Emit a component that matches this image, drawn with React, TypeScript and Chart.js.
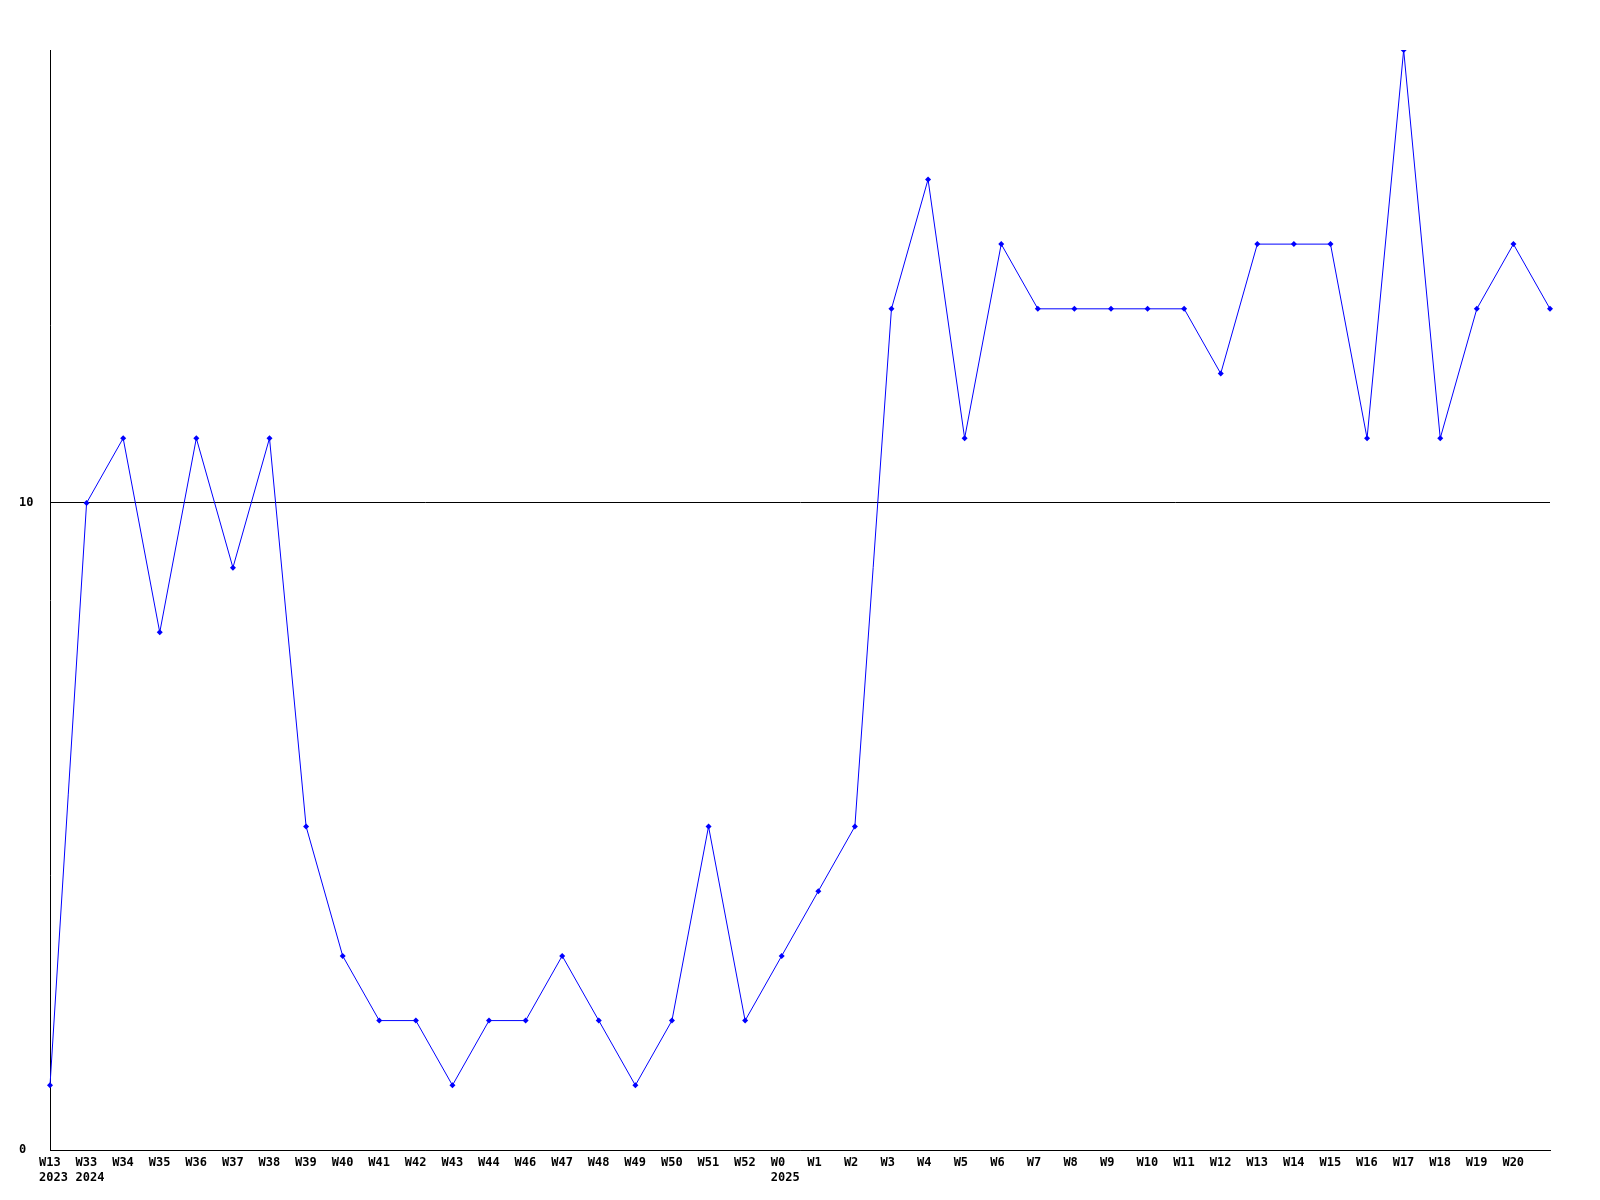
import React, { useEffect, useRef } from "react";
import { Chart, registerables } from "chart.js";

Chart.register(...registerables);

const weekLabels: (string | string[])[] = [
  ["W13", "2023"], ["W33", "2024"], "W34", "W35", "W36", "W37", "W38", "W39", "W40", "W41",
  "W42", "W43", "W44", "W46", "W47", "W48", "W49", "W50", "W51", "W52",
  ["W0", "2025"], "W1", "W2", "W3", "W4", "W5", "W6", "W7", "W8", "W9",
  "W10", "W11", "W12", "W13", "W14", "W15", "W16", "W17", "W18", "W19",
  "W20", "",
];

const seriesValues: number[] = [
  1, 10, 11, 8, 11, 9, 11, 5, 3, 2,
  2, 1, 2, 2, 3, 2, 1, 2, 5, 2,
  3, 4, 5, 13, 15, 11, 14, 13, 13, 13,
  13, 13, 12, 14, 14, 14, 11, 17, 11, 13,
  14, 13,
];

const yTickValues: number[] = [0, 10];

export default function App() {
  const ref = useRef<HTMLCanvasElement>(null);
  useEffect(() => {
    if (!ref.current) return;
    const font = { family: "'DejaVu Sans Mono', monospace", size: 12, weight: "bold" as const };
    const chart = new Chart(ref.current, {
      type: "line",
      data: {
        labels: weekLabels,
        datasets: [
          {
            data: seriesValues,
            borderColor: "#0000ff",
            backgroundColor: "#0000ff",
            borderWidth: 1,
            pointStyle: "rectRot",
            pointRadius: 3,
            pointBorderWidth: 0,
            tension: 0,
            fill: false,
          },
        ],
      },
      options: {
        animation: false,
        responsive: false,
        maintainAspectRatio: false,
        layout: { padding: { left: 19, top: 50, right: 50, bottom: 0 } },
        plugins: { legend: { display: false }, tooltip: { enabled: false } },
        scales: {
          x: {
            offset: false,
            grid: { display: false, drawTicks: false },
            border: { color: "#000", width: 1 },
            ticks: {
              color: "#000",
              font,
              padding: 6,
              maxRotation: 0,
              autoSkip: false,
              align: "start",
              labelOffset: -11,
            },
            afterFit: (s: any) => { s.height = 50; },
          },
          y: {
            min: 0,
            max: 17,
            afterBuildTicks: (s: any) => { s.ticks = yTickValues.map((v) => ({ value: v })); },
            grid: {
              drawTicks: false,
              color: "#000",
              lineWidth: 1,
            },
            border: { color: "#000", width: 1 },
            ticks: {
              color: "#000",
              font,
              crossAlign: "far",
              padding: 0,
            },
            afterFit: (s: any) => { s.width = 31; },
          },
        },
      },
    });
    return () => chart.destroy();
  }, []);
  return (
    <div style={{ position: "absolute", left: 0, top: 0, width: 1600, height: 1200, background: "#fff" }}>
      <canvas ref={ref} width={1600} height={1200} style={{ width: 1600, height: 1200 }} />
    </div>
  );
}
